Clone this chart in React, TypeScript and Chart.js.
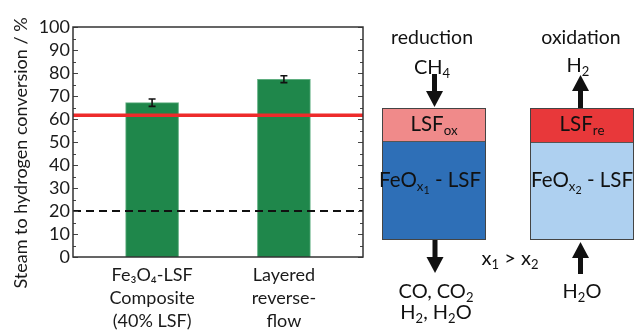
import React, { useEffect, useRef } from "react";
import { Chart, registerables } from "chart.js";
Chart.register(...registerables);

const FONT = "Lato, 'Noto Sans', 'DejaVu Sans', sans-serif";

const categories: string[][] = [
  ["Fe₃O₄-LSF", "Composite", "(40% LSF)"],
  ["Layered", "reverse-", "flow"],
];
const positions = [1, 2];
const conversion = [67.1, 77.3];
const errors = [1.6, 1.5];
const redLevel = 61.6;
const dashedLevel = 20;
const xRange = [0.4, 2.6];
const yTickStep = 10;
const yMinorStep = 5;
const yTitle = "Steam to hydrogen conversion / %";

const framePlugin = {
  id: "framePlugin",
  afterDatasetsDraw(chart: any) {
    const { ctx, chartArea: a, scales } = chart;
    const x = scales.x;
    const y = scales.y;
    ctx.save();
    // error bars
    ctx.strokeStyle = "#111";
    ctx.lineWidth = 1.6;
    positions.forEach((p, i) => {
      const px = x.getPixelForValue(p);
      const t = y.getPixelForValue(conversion[i] + errors[i]);
      const b = y.getPixelForValue(conversion[i] - errors[i]);
      ctx.beginPath();
      ctx.moveTo(px, t);
      ctx.lineTo(px, b);
      ctx.moveTo(px - 3.5, t);
      ctx.lineTo(px + 3.5, t);
      ctx.moveTo(px - 3.5, b);
      ctx.lineTo(px + 3.5, b);
      ctx.stroke();
    });
    // inward ticks
    ctx.strokeStyle = "#444";
    ctx.lineWidth = 1;
    for (let v = 0; v <= 100; v += yMinorStep) {
      const py = Math.round(y.getPixelForValue(v)) + 0.5;
      const len = v % yTickStep === 0 ? 5 : 3;
      ctx.beginPath();
      ctx.moveTo(a.left, py);
      ctx.lineTo(a.left + len, py);
      ctx.moveTo(a.right, py);
      ctx.lineTo(a.right - len, py);
      ctx.stroke();
    }
    // frame
    ctx.strokeStyle = "#333";
    ctx.lineWidth = 1.5;
    ctx.strokeRect(a.left, a.top, a.right - a.left, a.bottom - a.top);
    // y title
    ctx.translate(21, 153);
    ctx.rotate(-Math.PI / 2);
    ctx.fillStyle = "#1a1a1a";
    ctx.font = `18px ${FONT}`;
    ctx.textAlign = "center";
    ctx.textBaseline = "middle";
    ctx.fillText(yTitle, 0, 0);
    ctx.restore();
  },
};

function ChartPanel() {
  const ref = useRef<HTMLCanvasElement | null>(null);
  useEffect(() => {
    if (!ref.current) return;
    Chart.defaults.font.family = FONT;
    const chart = new Chart(ref.current, {
      type: "bar",
      data: {
        datasets: [
          {
            type: "line",
            data: xRange.map((xv) => ({ x: xv, y: redLevel })),
            borderColor: "#ee2b2b",
            borderWidth: 3.5,
            pointRadius: 0,
            order: 1,
          } as any,
          {
            type: "line",
            data: xRange.map((xv) => ({ x: xv, y: dashedLevel })),
            borderColor: "#111",
            borderWidth: 1.8,
            borderDash: [8, 5],
            pointRadius: 0,
            order: 2,
          } as any,
          {
            type: "bar",
            data: positions.map((p, i) => ({ x: p, y: conversion[i] })),
            backgroundColor: "#1f874b",
            borderColor: "#5fae80",
            borderWidth: 1,
            barThickness: 53,
            order: 3,
          } as any,
        ],
      },
      options: {
        animation: false,
        responsive: true,
        maintainAspectRatio: false,
        layout: { padding: { top: 27, right: 7, left: 0, bottom: 0 } },
        plugins: { legend: { display: false }, tooltip: { enabled: false } },
        scales: {
          x: {
            type: "linear",
            min: xRange[0],
            max: xRange[1],
            offset: false,
            grid: { display: false, drawTicks: false, offset: false },
            border: { display: false },
            afterBuildTicks: (s: any) => {
              s.ticks = positions.map((v) => ({ value: v }));
            },
            afterFit: (s: any) => {
              s.height = 77;
            },
            ticks: {
              padding: 6,
              color: "#1a1a1a",
              font: { size: 18, lineHeight: 1.3 },
              maxRotation: 0,
              autoSkip: false,
              callback: (v: any) => categories[positions.indexOf(Number(v))] as any,
            },
          },
          y: {
            min: 0,
            max: 100,
            grid: { display: false, drawTicks: false },
            border: { display: false },
            afterFit: (s: any) => {
              s.width = 73;
            },
            ticks: {
              stepSize: yTickStep,
              autoSkip: false,
              padding: 3,
              color: "#1a1a1a",
              font: { size: 18 },
            },
          },
        },
      } as any,
      plugins: [framePlugin],
    });
    return () => chart.destroy();
  }, []);
  return (
    <div style={{ position: "absolute", left: 0, top: 0, width: 370, height: 334 }}>
      <canvas ref={ref} />
    </div>
  );
}

const subStyle: React.CSSProperties = { fontSize: "0.65em", verticalAlign: "-0.3em" };

function T({ x, y, size = 19.5, children }: { x: number; y: number; size?: number; children: any }) {
  return (
    <div
      style={{
        position: "absolute",
        left: x,
        top: y,
        transform: "translate(-50%,-50%)",
        fontSize: size,
        whiteSpace: "nowrap",
        color: "#111",
        lineHeight: 1,
        fontFamily: FONT,
      }}
    >
      {children}
    </div>
  );
}

const S = ({ children }: { children: any }) => <span style={subStyle}>{children}</span>;

function Arrow({ cx, from, to }: { cx: number; from: number; to: number }) {
  const dir = to > from ? 1 : -1;
  const headLen = 16;
  const base = to - dir * headLen;
  return (
    <g fill="#111">
      <rect x={cx - 2.5} y={Math.min(from, base)} width={5} height={Math.abs(base - from) + 1} />
      <polygon points={`${cx - 8.5},${base} ${cx + 8.5},${base} ${cx},${to}`} />
    </g>
  );
}

function Diagram() {
  return (
    <div style={{ position: "absolute", left: 0, top: 0, width: 636, height: 334 }}>
      <div style={{ position: "absolute", left: 382, top: 108, width: 104, height: 132, border: "1px solid #444", boxSizing: "border-box", background: "#2e6fb7" }}>
        <div style={{ height: 32, background: "#f08a8a", borderBottom: "1px solid #555" }} />
      </div>
      <div style={{ position: "absolute", left: 530, top: 108, width: 104, height: 132, border: "1px solid #444", boxSizing: "border-box", background: "#aed0f0" }}>
        <div style={{ height: 33, background: "#e8383a", borderBottom: "1px solid #555" }} />
      </div>
      <svg width={636} height={334} style={{ position: "absolute", left: 0, top: 0 }}>
        <Arrow cx={434.5} from={74} to={107} />
        <Arrow cx={580.5} from={107} to={75} />
        <Arrow cx={435} from={240} to={273} />
        <Arrow cx={580.5} from={273} to={242} />
      </svg>
      <T x={432} y={37}>reduction</T>
      <T x={581} y={37}>oxidation</T>
      <T x={432} y={68} size={20}>CH<S>4</S></T>
      <T x={578} y={66} size={20}>H<S>2</S></T>
      <T x={434} y={125} size={20.5}>LSF<S>ox</S></T>
      <T x={582} y={125} size={20.5}>LSF<S>re</S></T>
      <T x={430} y={182} size={20.5}>FeO<span style={subStyle}>x<span style={{ fontSize: "0.8em", verticalAlign: "-0.3em" }}>1</span></span> - LSF</T>
      <T x={582} y={182} size={20.5}>FeO<span style={subStyle}>x<span style={{ fontSize: "0.8em", verticalAlign: "-0.3em" }}>2</span></span> - LSF</T>
      <T x={510} y={259} size={20}>x<S>1</S> &gt; x<S>2</S></T>
      <T x={436} y={292} size={20}>CO, CO<S>2</S></T>
      <T x={436} y={313} size={20}>H<S>2</S>, H<S>2</S>O</T>
      <T x={582} y={292} size={20}>H<S>2</S>O</T>
    </div>
  );
}

export default function App() {
  return (
    <div style={{ position: "absolute", left: 0, top: 0, width: 636, height: 334, background: "#fff", fontFamily: FONT }}>
      <ChartPanel />
      <Diagram />
    </div>
  );
}
